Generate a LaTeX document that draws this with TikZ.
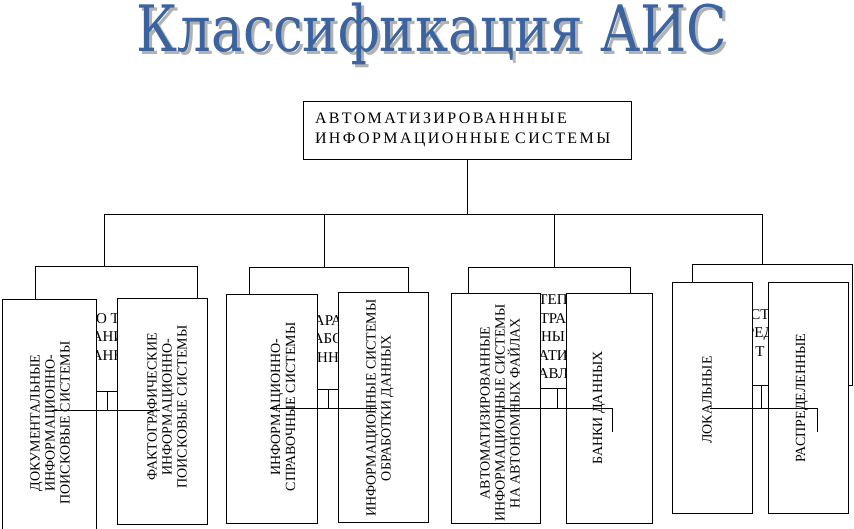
\documentclass[tikz,border=0pt]{standalone}
\usepackage{fontspec}
\setmainfont{Liberation Serif}
\newfontfamily\titlefont{DejaVu Serif}
\newfontfamily\rootfont{Liberation Serif}[LetterSpace=15]
\usepackage{xcolor}
\usepackage{tikz}

\definecolor{titleblue}{RGB}{58,99,160}
\definecolor{shadowgray}{RGB}{178,178,178}

\tikzset{
  box/.style={draw, line width=0.8pt, inner sep=0pt},
  leafbox/.style={draw, fill=white, line width=0.8pt, inner sep=0pt},
  leaftext/.style={rotate=90, align=center, inner sep=0pt, font=\fontsize{14}{15}\selectfont},
  fragtext/.style={align=center, inner sep=0pt, font=\fontsize{15}{18.5}\selectfont},
  titletext/.style={anchor=base, inner sep=0pt, font=\titlefont\fontsize{64}{64}\selectfont},
  link/.style={line width=0.8pt}
}

\begin{document}
\begin{tikzpicture}[x=1pt, y=-1pt]
\useasboundingbox (0,0) rectangle (854,529);

% title
\node[titletext, shadowgray] at (435,55) {\scalebox{0.83}[1]{Классификация АИС}};
\node[titletext, titleblue] (title) at (432,52) {\scalebox{0.83}[1]{Классификация АИС}};

% root
\node[box, minimum width=328pt, minimum height=58pt, text width=304pt, align=left,
      font=\rootfont\fontsize{16}{20}\selectfont] (root) at (467,130)
      {АВТОМАТИЗИРОВАНННЫЕ\\ИНФОРМАЦИОННЫЕ СИСТЕМЫ};

\coordinate (bus) at (466,214);
\coordinate (d1) at (104,214);
\coordinate (d2) at (324,214);
\coordinate (d3) at (554,214);
\coordinate (d4) at (762,214);

\draw[link] (root.south) -- (root.south |- bus);
\draw[link] (d1) -- (d4);

% groups
\node[box, minimum width=162pt, minimum height=125pt] (cat1) at (116,328.5) {};
\node[box, minimum width=159pt, minimum height=122pt] (cat2) at (328.5,328) {};
\node[box, minimum width=162pt, minimum height=121pt] (cat3) at (549,327.5) {};
\node[box, minimum width=160pt, minimum height=121pt] (cat4) at (772,324.5) {};

\foreach \i in {1,...,4}
  \draw[link] (d\i) -- (d\i |- cat\i.north);

\node[fragtext] (frag1) at (108,337) {О Т\\АНИ\\АНН};
\node[fragtext] (frag2) at (328,339) {АРА\\АБО\\НН};
\node[fragtext] (frag3) at (553,337) {ТЕП\\ТРА\\НЫ\\АТИ\\АВЛ};
\node[fragtext] (frag4) at (760,333) {СТ\\РЕД\\Т};

% leaves
\node[leafbox, minimum width=94pt, minimum height=241pt] (leaf1a) at (49,419.5) {};
\node[leafbox, minimum width=90pt, minimum height=226pt] (leaf1b) at (162,411) {};
\node[leafbox, minimum width=91pt, minimum height=229pt] (leaf2a) at (271.5,408.5) {};
\node[leafbox, minimum width=90pt, minimum height=230pt] (leaf2b) at (383,407) {};
\node[leafbox, minimum width=89pt, minimum height=230pt] (leaf3a) at (495.5,408) {};
\node[leafbox, minimum width=86pt, minimum height=230pt] (leaf3b) at (609,408) {};
\node[leafbox, minimum width=80pt, minimum height=231pt] (leaf4a) at (712,397.5) {};
\node[leafbox, minimum width=80pt, minimum height=231pt] (leaf4b) at (808,397.5) {};

\node[leaftext] (text1a) at (50,423) {ДОКУМЕНТАЛЬНЫЕ\\ИНФОРМАЦИОННО-\\ПОИСКОВЫЕ СИСТЕМЫ};
\node[leaftext] (text1b) at (167,407) {ФАКТОГРАФИЧЕСКИЕ\\ИНФОРМАЦИОННО-\\ПОИСКОВЫЕ СИСТЕМЫ};
\node[leaftext] (text2a) at (283,407) {ИНФОРМАЦИОННО-\\СПРАВОЧНЫЕ СИСТЕМЫ};
\node[leaftext] (text2b) at (380,408) {ИНФОРМАЦИОННЫЕ СИСТЕМЫ\\ОБРАБОТКИ ДАННЫХ};
\node[leaftext] (text3a) at (500,413) {АВТОМАТИЗИРОВАННЫЕ\\ИНФОРМАЦИОННЫЕ СИСТЕМЫ\\НА АВТОНОМНЫХ ФАЙЛАХ};
\node[leaftext] (text3b) at (599,408) {БАНКИ ДАННЫХ};
\node[leaftext] (text4a) at (707,400) {ЛОКАЛЬНЫЕ};
\node[leaftext] (text4b) at (802,398) {РАСПРЕДЕЛЕННЫЕ};

% stubs below the groups
\coordinate (h1) at (107,410.5);
\coordinate (h2) at (328,408);
\coordinate (h3) at (557,408);
\coordinate (h4) at (761,408);

\draw[link] (cat1.south -| h1) -- (h1);
\draw[link] (cat2.south -| h2) -- (h2);
\draw[link] (cat3.south -| h3) -- (h3);
\draw[link] (cat4.south -| h4) -- (h4);

\draw[link] ([xshift=-55pt]h1) -- ([xshift=53pt]h1);
\draw[link] ([xshift=-58pt]h2) -- ([xshift=49pt]h2);
\draw[link] ([xshift=-55pt]h3) -- ([xshift=55pt]h3) -- ++(0,24);
\draw[link] ([xshift=-51pt]h4) -- ([xshift=56pt]h4) -- ++(0,24);

\end{tikzpicture}
\end{document}
